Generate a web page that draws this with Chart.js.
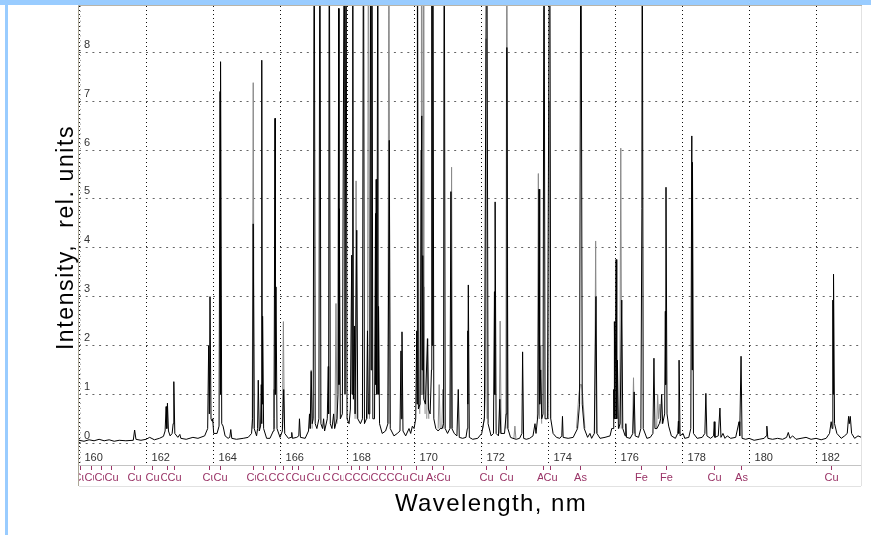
<!DOCTYPE html>
<html>
<head>
<meta charset="utf-8">
<script src="https://cdn.jsdelivr.net/npm/chart.js@4.4.0/dist/chart.umd.min.js"></script>
<style>
  html, body { margin: 0; padding: 0; background: #fff; }
  canvas { display: block; }
</style>
</head>
<body>
<canvas id="spectrum" width="871" height="535"></canvas>
<script>
// axis ticks
const xTicks = [160, 162, 164, 166, 168, 170, 172, 174, 176, 178, 180, 182];
const yTicks = [0, 1, 2, 3, 4, 5, 6, 7, 8];

// black spectrum: [wavelength nm, intensity]  (12 = goes off the top)
const blackTrace = [
    [160.00,0.06],[160.15,0.04],[160.30,0.07],[160.45,0.05],[160.60,0.08],[160.75,0.05],[160.90,0.07],[161.05,0.04],[161.20,0.06],[161.40,0.05],[161.62,0.06],
    [161.66,0.27],[161.70,0.08],[161.85,0.06],[162.00,0.08],[162.11,0.12],[162.25,0.07],[162.40,0.10],[162.52,0.14],
    [162.57,0.25],[162.60,0.75],[162.62,0.30],[162.64,0.82],[162.67,0.25],[162.72,0.15],[162.78,0.20],
    [162.81,0.40],[162.83,1.26],[162.86,0.20],[162.95,0.12],[163.01,0.18],[163.04,0.10],[163.20,0.08],[163.40,0.12],[163.55,0.10],[163.75,0.15],
    [163.84,0.30],[163.87,2.00],[163.89,0.60],[163.91,3.00],[163.94,0.50],[163.97,0.45],[163.99,0.50],[164.02,0.20],[164.12,0.20],[164.18,0.35],
    [164.21,7.20],[164.22,1.00],[164.23,7.81],[164.26,0.40],[164.30,0.35],[164.36,0.15],[164.45,0.10],[164.50,0.12],[164.53,0.28],[164.56,0.10],[164.70,0.08],[164.90,0.10],[165.05,0.12],[165.15,0.20],
    [165.18,0.50],[165.20,4.49],[165.23,0.30],[165.30,0.15],[165.33,0.30],[165.35,1.29],[165.38,0.25],[165.42,0.35],[165.44,1.20],[165.45,0.40],[165.46,7.84],[165.47,0.80],[165.48,2.60],[165.51,0.30],[165.60,0.10],[165.70,0.10],[165.80,0.25],
    [165.82,0.50],[165.85,6.65],[165.86,1.00],[165.88,3.20],[165.91,0.30],[166.00,0.12],[166.07,0.25],[166.11,1.10],[166.14,0.20],[166.25,0.10],[166.33,0.12],[166.35,0.22],[166.37,0.10],[166.50,0.12],[166.56,0.15],[166.58,0.50],[166.61,0.12],[166.75,0.10],[166.85,0.25],
    [166.88,0.60],[166.90,0.30],[166.93,1.47],[166.96,0.40],[166.99,0.50],[167.02,12],[167.05,0.40],[167.10,0.30],[167.16,0.50],[167.19,12],[167.22,0.40],[167.27,0.30],[167.30,0.50],[167.33,0.25],[167.41,0.50],[167.44,1.57],[167.45,0.60],[167.47,12],[167.50,0.40],[167.55,0.30],[167.60,0.60],[167.63,0.30],[167.70,0.50],
    [167.73,1.00],[167.75,8.90],[167.76,1.20],[167.77,4.80],[167.80,0.50],[167.86,0.60],[167.92,12],[167.94,1.00],[167.97,12],[168.00,0.50],[168.06,0.40],[168.10,0.70],[168.14,3.85],[168.15,1.00],[168.17,12],[168.19,0.90],[168.22,2.40],[168.24,0.60],[168.29,4.36],[168.32,0.50],[168.40,0.40],[168.46,0.50],[168.49,12],[168.52,0.40],[168.58,0.50],[168.61,2.30],[168.64,0.60],[168.68,0.60],[168.71,12],[168.72,1.50],[168.74,12],[168.77,0.50],[168.82,0.50],[168.85,4.70],[168.86,1.20],[168.87,5.40],[168.89,1.00],[168.92,12],[168.93,1.00],[168.94,2.80],[168.97,0.40],[169.05,0.20],[169.15,0.25],[169.22,0.40],
    [169.26,6.20],[169.29,0.30],[169.40,0.15],[169.50,0.20],[169.58,0.25],[169.61,1.89],[169.62,0.50],[169.64,2.28],[169.67,0.25],[169.75,0.15],[169.85,0.30],[169.90,0.20],[169.95,0.35],[170.00,0.30],[170.05,0.50],[170.08,2.30],[170.09,0.80],[170.10,12],[170.13,0.70],[170.18,0.80],[170.23,6.70],[170.24,1.50],[170.26,3.84],[170.29,0.90],[170.34,0.80],[170.40,2.14],[170.43,0.70],[170.48,0.60],[170.52,1.50],[170.53,12],[170.545,2.00],[170.56,12],[170.59,0.50],[170.65,0.30],[170.72,0.25],[170.78,0.30],[170.84,0.30],[170.88,0.40],[170.90,12],[170.93,0.30],[171.00,0.20],[171.07,0.30],[171.10,5.15],[171.13,0.30],[171.20,0.20],[171.28,0.15],[171.32,1.10],[171.35,0.12],[171.45,0.10],[171.55,0.12],[171.59,0.30],[171.60,2.30],[171.61,0.80],[171.62,3.24],[171.65,0.12],[171.75,0.08],[171.90,0.10],[172.02,0.20],[172.10,0.50],
    [172.17,12],[172.21,0.40],[172.30,0.15],[172.37,0.20],[172.40,3.10],[172.41,1.00],[172.42,4.94],[172.45,0.20],[172.52,0.15],[172.56,0.90],[172.59,0.20],[172.70,0.20],[172.75,0.60],[172.77,8.10],[172.80,0.30],[172.88,0.12],[172.95,0.10],[173.05,0.08],[173.15,0.10],[173.22,0.20],[173.24,1.87],[173.27,0.10],[173.35,0.08],[173.45,0.10],[173.55,0.15],[173.61,0.40],[173.64,0.20],
    [173.70,0.60],[173.73,5.20],[173.75,0.80],[173.78,1.50],[173.81,0.50],[173.85,0.60],[173.88,12],[173.91,0.50],[173.98,0.50],[174.05,12],[174.08,0.50],[174.15,0.20],[174.25,0.12],[174.35,0.10],[174.41,0.15],[174.43,0.55],[174.45,0.12],[174.60,0.10],[174.75,0.12],[174.88,0.30],[174.94,0.80],[174.98,12],[175.02,0.80],[175.08,0.30],[175.18,0.12],[175.25,0.20],[175.30,0.10],[175.38,0.20],[175.43,3.00],[175.46,0.20],[175.55,0.10],[175.70,0.12],[175.85,0.15],[175.90,0.30],[175.94,0.30],[175.96,1.10],[175.97,0.50],[175.98,2.49],[176.00,0.50],[176.03,3.76],[176.05,0.50],[176.07,1.70],[176.10,0.30],[176.15,0.40],[176.20,2.93],[176.23,0.30],[176.30,0.15],[176.32,0.40],[176.34,0.12],[176.45,0.10],[176.53,0.20],[176.57,1.05],[176.60,0.15],[176.70,0.12],[176.77,0.30],[176.80,4.80],[176.81,12],[176.84,0.30],[176.95,0.10],[177.05,0.12],[177.13,0.20],[177.16,1.74],[177.19,0.30],[177.25,0.30],[177.32,0.40],[177.36,0.50],[177.39,1.00],[177.42,0.40],[177.48,0.60],[177.50,2.70],[177.51,1.20],[177.52,5.24],[177.55,0.60],[177.60,0.35],[177.68,0.15],[177.80,0.10],[177.87,0.20],[177.89,0.45],[177.90,0.20],[177.91,1.70],[177.94,0.15],[178.03,0.20],[178.08,0.10],[178.20,0.12],[178.26,0.30],[178.29,6.29],[178.30,1.50],[178.31,5.75],[178.34,0.20],[178.45,0.10],[178.60,0.12],[178.68,0.20],[178.71,1.02],[178.74,0.15],[178.85,0.10],[178.94,0.15],[178.96,0.44],[178.98,0.12],[179.08,0.15],[179.13,0.72],[179.16,0.12],[179.22,0.20],[179.28,0.10],[179.35,0.15],[179.45,0.10],[179.60,0.12],[179.70,0.44],[179.72,0.15],[179.76,1.78],[179.79,0.10],[179.90,0.08],[180.00,0.10],[180.15,0.06],[180.30,0.08],[180.45,0.10],[180.51,0.15],[180.53,0.35],[180.56,0.10],[180.70,0.08],[180.85,0.10],[181.00,0.08],[181.12,0.12],[181.17,0.22],[181.22,0.10],[181.30,0.15],[181.40,0.08],[181.55,0.10],[181.70,0.12],[181.85,0.08],[182.00,0.10],[182.15,0.07],[182.30,0.10],[182.40,0.20],[182.45,0.44],[182.48,0.30],[182.50,2.93],[182.51,1.00],[182.52,3.46],[182.55,0.40],[182.62,0.20],[182.75,0.10],[182.85,0.15],[182.93,0.20],[182.97,0.55],[182.99,0.40],[183.02,0.55],[183.06,0.20],[183.15,0.10],[183.25,0.15],[183.35,0.12]
];

// grey spectrum, only where it shows apart from the black one
const grayPeaks = [
    [[165.17,0.30],[165.20,7.38],[165.23,0.30]],
    [[165.80,0.30],[165.82,1.10],[165.84,0.30]],
    [[166.07,0.30],[166.10,2.49],[166.13,0.30]],
    [[166.90,0.30],[166.93,1.50],[166.96,0.30]],
    [[167.64,0.40],[167.67,2.86],[167.70,0.40]],
    [[168.24,0.50],[168.27,5.37],[168.30,0.50]],
    [[168.61,0.50],[168.64,12],[168.67,0.50]],
    [[169.22,0.40],[169.25,12],[169.28,0.40]],
    [[170.17,0.60],[170.20,6.00],[170.21,1.00],[170.22,12],[170.25,1.00],[170.28,12],[170.29,1.00],[170.30,3.20],[170.33,0.60]],
    [[170.38,0.50],[170.41,2.14],[170.44,0.50]],
    [[170.72,0.30],[170.75,1.20],[170.78,0.30]],
    [[170.83,0.30],[170.86,1.10],[170.89,0.30]],
    [[171.09,0.30],[171.12,5.65],[171.15,0.30]],
    [[172.05,0.30],[172.10,0.55],[172.13,1.00],[172.15,8.28],[172.18,0.50]],
    [[172.54,0.20],[172.57,2.50],[172.60,0.20]],
    [[172.74,0.30],[172.77,12],[172.80,0.30]],
    [[172.98,0.10],[173.01,0.35],[173.04,0.10]],
    [[173.68,0.50],[173.71,5.52],[173.74,0.50],[173.78,2.00],[173.81,0.40]],
    [[174.01,0.50],[174.04,7.00],[174.07,0.50]],
    [[174.85,0.30],[174.92,1.00],[174.96,1.20],[175.00,1.20],[175.04,0.90],[175.10,0.30]],
    [[175.39,0.20],[175.42,4.14],[175.45,0.20]],
    [[176.14,0.30],[176.17,6.04],[176.20,0.30]],
    [[176.52,0.20],[176.55,1.34],[176.58,0.20]],
    [[177.24,0.30],[177.27,1.00],[177.30,0.50],[177.34,0.80],[177.37,0.40]]
];

// element markers under the axis
const lineWl = [160.03, 160.35, 160.67, 160.96, 161.65, 162.17, 162.62, 162.84, 163.89, 164.21,
    165.20, 165.48, 165.86, 166.08, 166.37, 166.55, 166.99, 167.47, 167.74, 168.12, 168.36, 168.61,
    168.89, 169.13, 169.38, 169.60, 170.05, 170.53, 170.87, 172.14, 172.74, 173.86, 174.06, 174.96,
    176.78, 177.51, 178.96, 179.76, 182.44];
const lineEl = ['Cu', 'Cu', 'Cu', 'Cu', 'Cu', 'Cu', 'Cu', 'Cu', 'Cu', 'Cu',
    'Cu', 'Cu', 'Cu', 'Cu', 'Cu', 'Cu', 'Cu', 'Cu', 'Cu', 'Cu', 'Cu', 'Cu',
    'Cu', 'Cu', 'Cu', 'Cu', 'Cu', 'As', 'Cu', 'Cu', 'Cu', 'As', 'Cu', 'As',
    'Fe', 'Fe', 'Cu', 'As', 'Cu'];

let blackData = blackTrace.map(p => ({x: p[0], y: p[1]}));
let grayData = [];
grayPeaks.forEach(seg => {
    seg.forEach(p => grayData.push({x: p[0], y: p[1]}));
    grayData.push({x: seg[seg.length - 1][0], y: null});
});

const SANS = '"Liberation Sans", Arial, sans-serif';

const frame = {
    id: 'frame',
    beforeDraw(chart) {
        const c = chart.ctx;
        c.save();
        c.fillStyle = '#fff';
        c.fillRect(0, 0, chart.width, chart.height);
        c.fillStyle = '#99ccff';
        c.fillRect(0, 0, chart.width, 5);
        c.fillRect(5, 0, 3, chart.height);
        c.restore();
    },
    afterDraw(chart) {
        const c = chart.ctx;
        const a = chart.chartArea;
        const xs = chart.scales.x, ys = chart.scales.y;
        c.save();

        // y tick labels inside the plot
        c.font = '11px ' + SANS;
        c.fillStyle = '#333';
        c.textAlign = 'left';
        c.textBaseline = 'middle';
        yTicks.forEach(v => c.fillText(String(v), a.left + 5, ys.getPixelForValue(v) - 7.5));
        // x tick labels inside the plot
        xTicks.forEach(v => c.fillText(String(v), xs.getPixelForValue(v) + 5.5, 458));

        // separator and marker box
        c.fillStyle = '#c4c4c4';
        c.fillRect(a.left, 465, a.right - a.left, 1);
        c.fillStyle = '#e2e2e2';
        c.fillRect(a.left, 486, a.right - a.left, 1);
        c.fillRect(a.right, a.top, 1, 486 - a.top);

        c.beginPath();
        c.rect(a.left, 466, a.right - a.left, 20);
        c.clip();
        c.font = '11px ' + SANS;
        c.textAlign = 'center';
        lineWl.forEach((w, i) => {
            const x = Math.round(xs.getPixelForValue(w)) + 0.5;
            c.strokeStyle = '#993366';
            c.lineWidth = 1;
            c.beginPath();
            c.moveTo(x, 466);
            c.lineTo(x, 470);
            c.stroke();
            const tw = c.measureText(lineEl[i]).width;
            c.fillStyle = '#fff';
            c.fillRect(x - tw / 2 - 0.5, 471, tw + 1, 13);
            c.fillStyle = '#993366';
            c.fillText(lineEl[i], x, 477.5);
        });
        c.restore();

        c.save();
        // plot border left / top
        c.fillStyle = '#aca898';
        c.fillRect(a.left - 1, a.top, 1, 486 - a.top);
        c.fillStyle = '#b8b4a8';
        c.fillRect(a.left - 1, a.top - 1, a.right - a.left + 2, 1);
        // small ticks along the left border
        c.strokeStyle = '#999';
        c.setLineDash([1, 3.9]);
        c.beginPath();
        c.moveTo(a.left + 1.5, a.top);
        c.lineTo(a.left + 1.5, a.bottom);
        c.stroke();
        c.setLineDash([]);

        // axis titles
        c.fillStyle = '#000';
        c.textAlign = 'center';
        c.textBaseline = 'alphabetic';
        c.font = '24px ' + SANS;
        c.letterSpacing = '1.4px';
        c.fillText('Wavelength, nm', 491, 510.5);
        c.translate(73, 237.5);
        c.rotate(-Math.PI / 2);
        c.font = '23px ' + SANS;
        c.letterSpacing = '1.6px';
        c.fillText('Intensity,  rel. units', 0, 0);
        c.restore();
    }
};

new Chart(document.getElementById('spectrum').getContext('2d'), {
    type: 'scatter',
    data: {
        datasets: [{
            label: 'spectrum',
            data: blackData,
            showLine: true,
            borderColor: '#000',
            borderWidth: 1,
            pointRadius: 0,
            order: 0
        },
        {
            label: 'reference',
            data: grayData,
            showLine: true,
            spanGaps: false,
            borderColor: '#8a8a8a',
            borderWidth: 1,
            pointRadius: 0,
            order: 1
        }]
    },
    options: {
        responsive: false,
        animation: false,
        layout: { padding: { left: 79, right: 10, top: 6, bottom: 72 } },
        plugins: { legend: { display: false }, tooltip: { enabled: false } },
        scales: {
            x: {
                type: 'linear',
                min: 160,
                max: 183.34,
                afterBuildTicks: (s) => { s.ticks = xTicks.map(v => ({value: v})); },
                ticks: { display: false },
                grid: { drawTicks: false, color: '#111', lineWidth: 1 },
                border: { display: false, dash: [1, 3] }
            },
            y: {
                type: 'linear',
                min: -0.405,
                max: 8.95,
                afterBuildTicks: (s) => { s.ticks = yTicks.map(v => ({value: v})); },
                ticks: { display: false },
                grid: { drawTicks: false, color: '#666', lineWidth: 1 },
                border: { display: false, dash: [2, 4.7] }
            }
        }
    },
    plugins: [frame]
});
</script>
</body>
</html>
